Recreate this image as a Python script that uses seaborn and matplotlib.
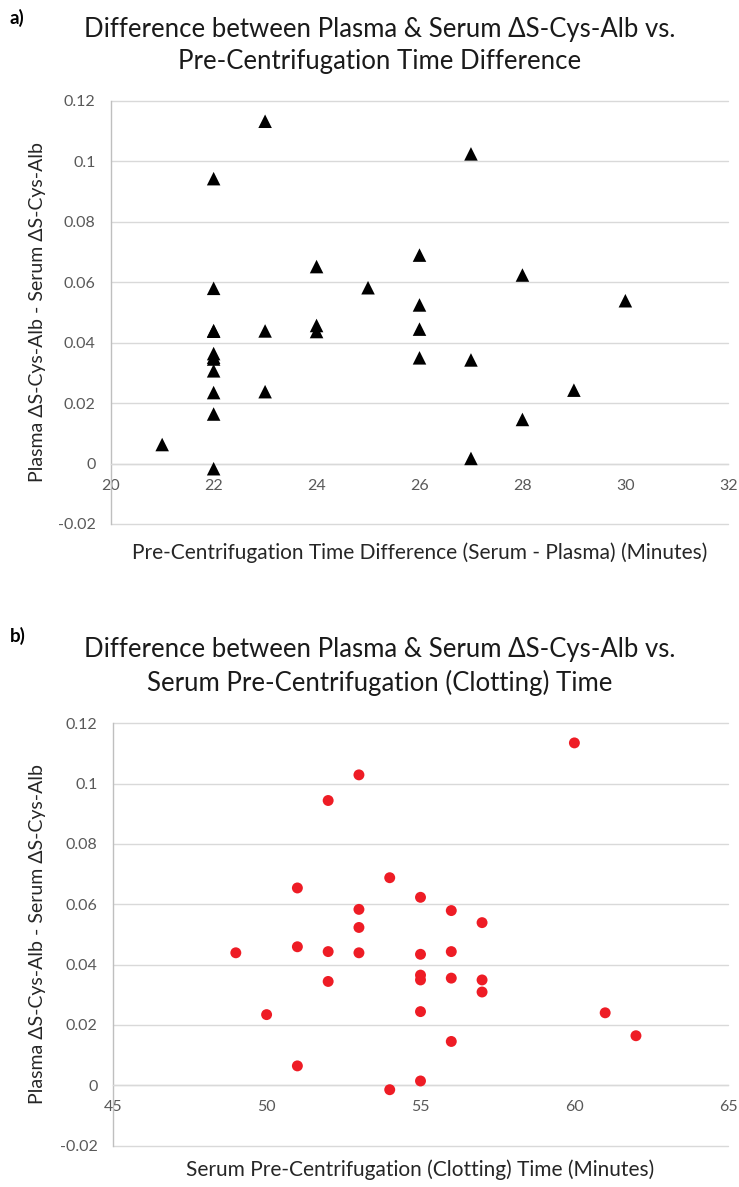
import matplotlib
matplotlib.use("Agg")
import matplotlib.pyplot as plt
import seaborn as sns
import pandas as pd

# Panel a: pre-centrifugation time difference (serum - plasma), minutes
diff_minutes = [21,
                22, 22, 22, 22, 22, 22, 22, 22, 22, 22, 22,
                23, 23, 23,
                24, 24, 24,
                25,
                26, 26, 26, 26,
                27, 27, 27,
                28, 28,
                29,
                30]
diff_delta = [0.0063,
              0.0943, 0.0580, 0.0440, 0.0438, 0.0364, 0.0352, 0.0346, 0.0307, 0.0235, 0.0164, -0.0017,
              0.1133, 0.0439, 0.0238,
              0.0652, 0.0457, 0.0437,
              0.0582,
              0.0690, 0.0525, 0.0445, 0.0350,
              0.1025, 0.0343, 0.0017,
              0.0624, 0.0146,
              0.0243,
              0.0539]

# Panel b: serum pre-centrifugation (clotting) time, minutes
clot_minutes = [49,
                50,
                51, 51, 51,
                52, 52, 52,
                53, 53, 53, 53,
                54, 54,
                55, 55, 55, 55, 55, 55,
                56, 56, 56, 56,
                57, 57, 57,
                60,
                61,
                62]
clot_delta = [0.0439,
              0.0234,
              0.0654, 0.0459, 0.0064,
              0.0944, 0.0443, 0.0344,
              0.1029, 0.0583, 0.0523, 0.0439,
              0.0688, -0.0015,
              0.0623, 0.0434, 0.0365, 0.0349, 0.0244, 0.0014,
              0.0579, 0.0443, 0.0355, 0.0145,
              0.0539, 0.0349, 0.0309,
              0.1135,
              0.0240,
              0.0164]

y_ticks = [-0.02, 0, 0.02, 0.04, 0.06, 0.08, 0.1, 0.12]
y_ticklabels = ["-0.02", "0", "0.02", "0.04", "0.06", "0.08", "0.1", "0.12"]
xa_ticks = [20, 22, 24, 26, 28, 30, 32]
xb_ticks = [45, 50, 55, 60, 65]

ylabel = "Plasma ΔS-Cys-Alb - Serum ΔS-Cys-Alb"
title_a = ["Difference between Plasma & Serum ΔS-Cys-Alb vs.",
           "Pre-Centrifugation Time Difference"]
title_b = ["Difference between Plasma & Serum ΔS-Cys-Alb vs.",
           "Serum Pre-Centrifugation (Clotting) Time"]
xlabel_a = "Pre-Centrifugation Time Difference (Serum - Plasma) (Minutes)"
xlabel_b = "Serum Pre-Centrifugation (Clotting) Time (Minutes)"

sns.set_style("white")
plt.rcParams["font.family"] = ["Lato", "DejaVu Sans"]

W, H = 739, 1187
fig = plt.figure(figsize=(W / 100, H / 100), dpi=100)

GRID = "#D9D9D9"
TICK = "#595959"
LABEL = "#262626"


def px_axes(left, top, right, bottom):
    return fig.add_axes([left / W, 1 - bottom / H, (right - left) / W, (bottom - top) / H])


def style_axes(ax, xlim, xticks, xlabel, label_x, label_y):
    ax.set_xlim(*xlim)
    ax.set_ylim(-0.02, 0.12)
    ax.set_xticks(xticks)
    ax.set_xticklabels([str(t) for t in xticks])
    ax.set_yticks(y_ticks)
    ax.set_yticklabels(y_ticklabels)
    ax.grid(False)
    for y in y_ticks:
        ax.axhline(y, color=GRID, lw=1.0, zorder=0, clip_on=False)
    for side in ("top", "right"):
        ax.spines[side].set_visible(False)
    ax.spines["bottom"].set_position(("data", 0))
    ax.spines["bottom"].set_color(GRID)
    ax.spines["bottom"].set_linewidth(1.0)
    ax.spines["left"].set_color("#BFBFBF")
    ax.spines["left"].set_linewidth(1.0)
    ax.tick_params(axis="both", length=0, labelsize=11.5, labelcolor=TICK)
    ax.tick_params(axis="x", pad=11)
    ax.tick_params(axis="y", pad=11)
    ax.set_xlabel(xlabel, fontsize=15, color=LABEL)
    ax.set_ylabel(ylabel, fontsize=14, color=LABEL)
    ax.xaxis.set_label_coords(0.5, label_x)
    ax.xaxis.label.set_va("center")
    ax.yaxis.set_label_coords(label_y, 0.5)
    ax.yaxis.label.set_va("center")


# Panel a
ax_a = px_axes(110.7, 101, 728.3, 524)
df_a = pd.DataFrame({"diff": diff_minutes, "delta": diff_delta})
sns.scatterplot(data=df_a, x="diff", y="delta", ax=ax_a, marker="^", s=95,
                color="black", edgecolor="none", zorder=3, clip_on=False)
style_axes(ax_a, (20, 32), xa_ticks, xlabel_a, (524 - 553) / 423, (38 - 110.7) / 617.6)

# Panel b
ax_b = px_axes(112.7, 723.3, 728.3, 1145.5)
df_b = pd.DataFrame({"clot": clot_minutes, "delta": clot_delta})
sns.scatterplot(data=df_b, x="clot", y="delta", ax=ax_b, marker="o", s=62,
                color="#EE1C25", edgecolor="none", zorder=3, clip_on=False)
style_axes(ax_b, (45, 65), xb_ticks, xlabel_b, (1145.5 - 1170) / 422.2, (38 - 112.7) / 615.6)

# Titles and panel letters
TITLE = "#1A1A1A"
for (line1, line2), y1, y2 in ((title_a, 30, 62), (title_b, 650, 683)):
    fig.text(380 / W, 1 - y1 / H, line1, ha="center", va="center", fontsize=18.5, color=TITLE)
    fig.text(380 / W, 1 - y2 / H, line2, ha="center", va="center", fontsize=18.5, color=TITLE)

fig.text(10 / W, 1 - 18 / H, "a)", ha="left", va="center", fontsize=13.5, fontweight="bold", color="black")
fig.text(10 / W, 1 - 636 / H, "b)", ha="left", va="center", fontsize=13.5, fontweight="bold", color="black")

fig.savefig("out.png", dpi=100)
